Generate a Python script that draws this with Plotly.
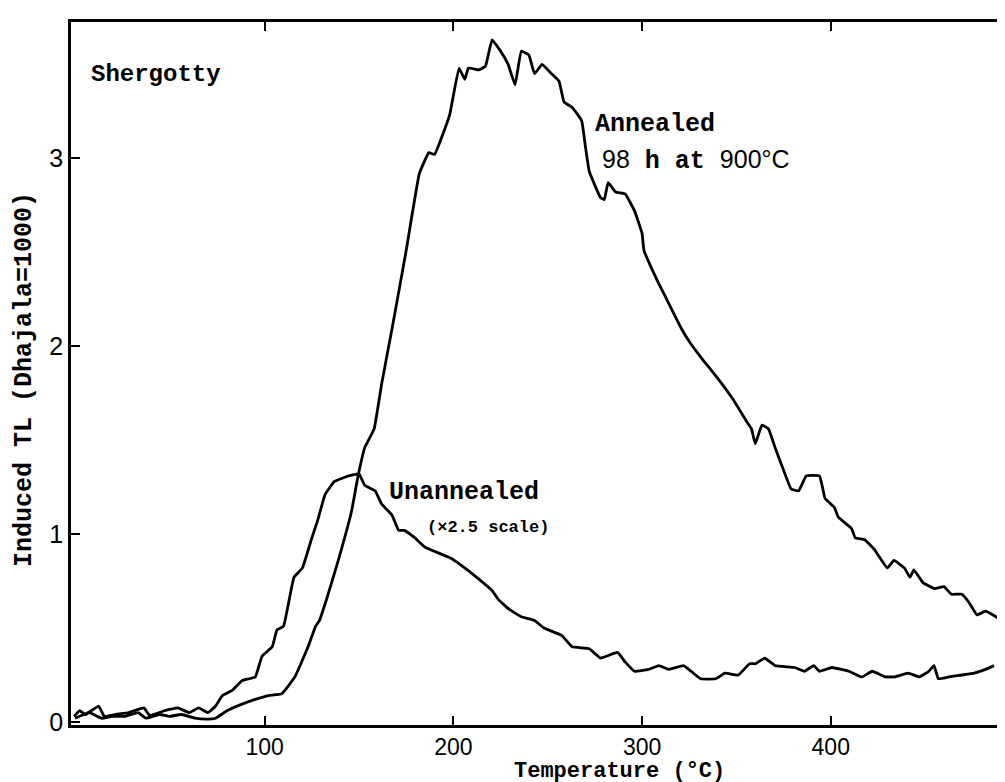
import plotly.graph_objects as go

# Annealed (98 h at 900 C)
annealed_T = [-0.5, 7, 13.6, 19, 26, 33, 37, 44, 49.5, 56, 63, 70, 74, 80, 88, 95, 102, 109, 116, 123, 127, 129, 133,
              139, 146, 149.5, 153, 158, 162, 168, 175, 182, 187, 190, 198, 203, 206, 208, 213.5, 217, 220.5, 225, 229,
              232.7, 236, 240, 243, 247, 252, 256, 258.6, 263, 268, 270, 272, 278, 280, 282, 286, 291, 296, 300, 301,
              308, 313, 321, 326, 332, 340, 348, 356, 358, 360, 363.5, 367, 370.5, 375, 379, 383, 387, 394, 397, 402,
              404, 411, 413, 418, 423, 430, 433.5, 439, 442, 444, 449, 455, 460, 464, 469.5, 473, 477.5, 482, 489, 492]
annealed_TL = [0.02, 0.05, 0.02, 0.03, 0.03, 0.05, 0.02, 0.04, 0.03, 0.04, 0.02, 0.015, 0.02, 0.06, 0.095, 0.12, 0.14,
               0.15, 0.24, 0.40, 0.51, 0.54, 0.66,
               0.86, 1.12, 1.31, 1.46, 1.56, 1.80, 2.12, 2.51, 2.92, 3.03, 3.02, 3.23, 3.48, 3.42, 3.48, 3.47, 3.49,
               3.63, 3.57, 3.50, 3.39, 3.57, 3.55, 3.45, 3.50, 3.45, 3.41, 3.30, 3.27, 3.20, 3.06, 2.93, 2.79, 2.78,
               2.87, 2.82, 2.81, 2.72, 2.60, 2.51,
               2.35, 2.25, 2.09, 2.01, 1.93, 1.83, 1.72, 1.59, 1.56, 1.48, 1.58, 1.56, 1.46, 1.34, 1.24, 1.23, 1.31,
               1.31, 1.19, 1.14, 1.09, 1.03, 0.98, 0.97, 0.92, 0.82, 0.86, 0.82, 0.77, 0.81, 0.74, 0.71, 0.72, 0.68,
               0.68, 0.64, 0.57, 0.59, 0.55, 0.50]

# Unannealed (x2.5 scale)
unannealed_T = [-1, 2, 5, 12, 15, 21, 28, 36, 39, 47, 54, 60, 65, 70, 74, 77.5, 83, 88, 95, 98.6, 104, 106.5, 110,
                115.5, 120, 125, 128, 132, 137, 144.5, 150, 153, 158.5, 162, 167.5, 171, 174, 179.6, 185, 192, 199,
                206, 213.5, 220.5, 224, 229.5, 236, 243, 248, 257.5, 263, 272, 278, 287, 291, 296, 303.5, 309, 314,
                322, 326, 331, 339, 344, 351, 357, 360, 365, 370.5, 381, 386, 391, 394, 400.6, 409.6, 416.5, 422, 429,
                434, 441, 447, 452, 454.7, 457, 462.6, 469.5, 476, 482, 486.5]
unannealed_TL = [0.03, 0.06, 0.04, 0.085, 0.03, 0.04, 0.05, 0.075, 0.035, 0.06, 0.075, 0.05, 0.075, 0.05, 0.085, 0.14,
                 0.17, 0.22, 0.24, 0.35, 0.40, 0.49, 0.51, 0.77, 0.82, 0.98, 1.07, 1.21, 1.28, 1.31, 1.32, 1.26, 1.23,
                 1.16, 1.10, 1.02, 1.02, 0.98, 0.93, 0.90, 0.87, 0.82, 0.76, 0.70, 0.65, 0.60, 0.56, 0.54, 0.50, 0.46,
                 0.40, 0.39, 0.34, 0.37, 0.32, 0.27, 0.28, 0.30, 0.28, 0.30, 0.27, 0.23, 0.23, 0.26, 0.25, 0.31, 0.31,
                 0.34, 0.30, 0.29, 0.27, 0.30, 0.27, 0.29, 0.27, 0.24, 0.27, 0.24, 0.24, 0.26, 0.24, 0.27, 0.30, 0.23,
                 0.24, 0.25, 0.26, 0.28, 0.30]

x_ticks = [100, 200, 300, 400]
y_ticks = [0, 1, 2, 3]

TYPE = "Liberation Mono"
SANS = "Liberation Sans"

fig = go.Figure()
for xs, ys in [(annealed_T, annealed_TL), (unannealed_T, unannealed_TL)]:
    fig.add_trace(go.Scatter(x=xs, y=ys, mode="lines",
                             line=dict(color="black", width=2.8, shape="spline", smoothing=0.3),
                             showlegend=False, hoverinfo="skip"))

# the page body has a small margin; the figure is sized so the plot lands where the reference has it
OFF = 6
W, H = 1005 - OFF, 782 - OFF
L, R, T, B = 69 - OFF, 0, 20 - OFF, H - (723 - OFF)
pw, ph = W - L - R, H - T - B


def px(xp):
    return (xp - OFF - L) / pw


def py(yp):
    return (H - B - (yp - OFF)) / ph


def sans(s):
    return f"<span style='font-family:{SANS}'>{s}</span>"


ann = [
    dict(x=42.4, y=3.446, text="<b>Shergotty</b>", xanchor="center", yanchor="middle", xref="x", yref="y",
         font=dict(family=TYPE, size=24, color="black")),
    dict(x=274, y=3.177, text="<b>Annealed</b>", xanchor="left", yanchor="middle", xref="x", yref="y",
         font=dict(family=TYPE, size=25, color="black")),
    dict(x=277.7, y=2.987, text=sans("98") + " <b>h at</b> " + sans("900°C"), xanchor="left", yanchor="middle",
         xref="x", yref="y", font=dict(family=TYPE, size=25, color="black")),
    dict(x=164.8, y=1.219, text="<b>Unannealed</b>", xanchor="left", yanchor="middle", xref="x", yref="y",
         font=dict(family=TYPE, size=25, color="black")),
    dict(x=185, y=1.034, text="<b>(×2.5 scale)</b>", xanchor="left", yanchor="middle", xref="x", yref="y",
         font=dict(family=TYPE, size=17, color="black")),
    dict(x=px(617), y=py(769), text="<b>Temperature (°C)</b>", xanchor="center", yanchor="middle",
         xref="paper", yref="paper", font=dict(family=TYPE, size=22, color="black")),
    dict(x=px(22), y=py(378), text="<b>Induced TL (Dhajala=1000)</b>", textangle=-90, xanchor="center",
         yanchor="middle", xref="paper", yref="paper", font=dict(family=TYPE, size=25, color="black")),
]
for a in ann:
    a["showarrow"] = False
    fig.add_annotation(**a)

fig.update_layout(
    width=W, height=H,
    margin=dict(l=L, r=R, t=T, b=B, pad=0, autoexpand=False),
    paper_bgcolor="white", plot_bgcolor="white",
    xaxis=dict(range=[-2.65, 493.4], tickvals=x_ticks, ticktext=[str(v) for v in x_ticks],
               ticks="inside", ticklen=9, tickwidth=2, tickcolor="black",
               showline=True, linecolor="black", linewidth=2.5, mirror="ticks",
               showgrid=False, zeroline=False,
               tickfont=dict(family=SANS, size=23, color="black")),
    yaxis=dict(range=[-0.016, 3.725], tickvals=y_ticks, ticktext=[str(v) for v in y_ticks],
               ticks="inside", ticklen=9, tickwidth=2, tickcolor="black",
               showline=True, linecolor="black", linewidth=2.5, mirror=False,
               showgrid=False, zeroline=False,
               tickfont=dict(family=SANS, size=25, color="black")),
)

fig.write_html("out.html")
